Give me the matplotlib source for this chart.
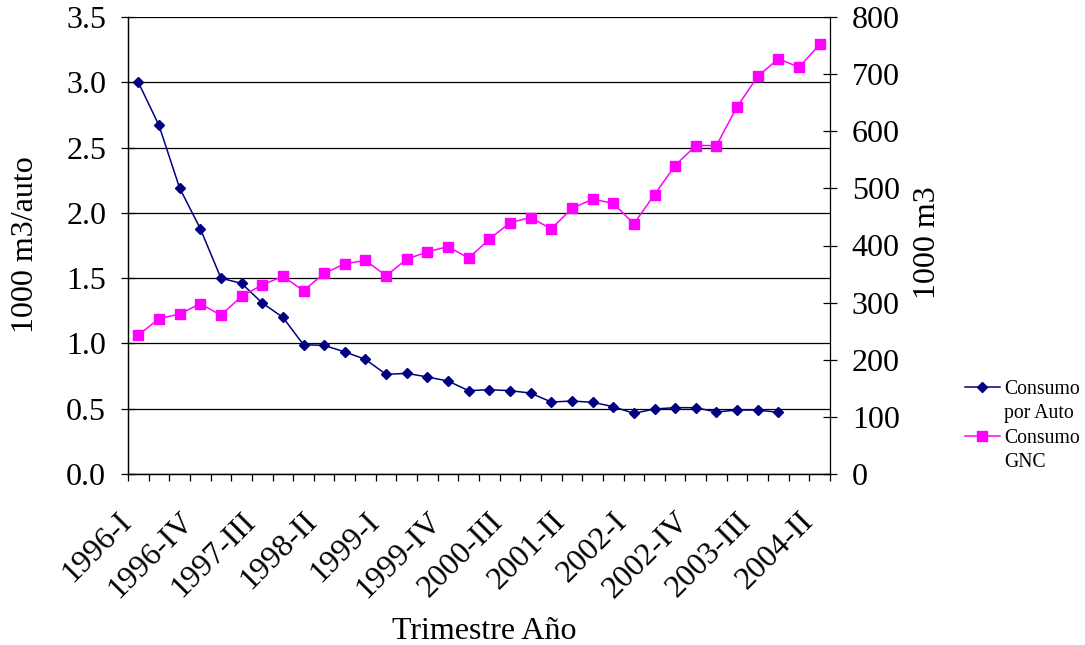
import matplotlib
matplotlib.use("Agg")
import matplotlib.pyplot as plt
from matplotlib.lines import Line2D
from matplotlib.transforms import ScaledTranslation
import numpy as np

plt.rcParams['font.family'] = ['Liberation Serif', 'DejaVu Serif']

# trimestres 1996-I .. 2004-II
years = range(1996, 2005)
quarters = ['I', 'II', 'III', 'IV']
trimestres = [f"{y}-{q}" for y in years for q in quarters][:34]

consumo_auto = [3.00, 2.67, 2.19, 1.88, 1.50, 1.46, 1.31, 1.20, 0.99, 0.985,
                0.935, 0.878, 0.763, 0.771, 0.743, 0.712, 0.638, 0.646, 0.638, 0.620,
                0.551, 0.559, 0.549, 0.516, 0.464, 0.498, 0.508, 0.508, 0.475, 0.490,
                0.490, 0.472]

consumo_gnc = [243, 272, 280, 298, 278, 311, 331, 346, 321, 351,
               368, 374, 347, 376, 389, 398, 378, 411, 440, 449,
               429, 465, 481, 474, 438, 489, 540, 575, 575, 643,
               696, 727, 712, 752]

azul = '#000080'
magenta = '#FF00FF'
fs = 23

fig = plt.figure(figsize=(10.85, 6.45), dpi=100)
ax = fig.add_axes([128/1085, 1-474/645, 702/1085, 457/645])
ax2 = ax.twinx()

x1 = np.arange(len(consumo_auto))
x2 = np.arange(len(consumo_gnc))
l1, = ax.plot(x1, consumo_auto, color=azul, marker='D', markersize=5, lw=1.1, zorder=3)
l2, = ax2.plot(x2, consumo_gnc, color=magenta, marker='s', markersize=6.5, lw=1.1, zorder=3)

ax.set_xlim(-0.5, len(trimestres) - 0.5)
ax.set_ylim(0, 3.5)
ax2.set_ylim(0, 800)

ax.set_yticks(np.arange(0, 3.51, 0.5))
ax.set_yticklabels([f"{v:.1f}" for v in np.arange(0, 3.51, 0.5)])
ax2.set_yticks(range(0, 801, 100))
ax.yaxis.grid(True, color='black', lw=0.9)
ax.set_axisbelow(True)

# category labels every 3 quarters, ticks between categories
ax.set_xticks(x2[::3])
ax.set_xticklabels(trimestres[::3], rotation=45, ha='right', va='center',
                   rotation_mode='anchor', fontsize=fs)
ax.set_xticks(np.arange(-0.5, len(trimestres)), minor=True)
ax.tick_params(axis='x', which='major', length=0, pad=31)
ax.tick_params(axis='x', which='minor', direction='out', length=5, width=0.9)
shift = ScaledTranslation(-0.11, 0, fig.dpi_scale_trans)
for lab in ax.get_xticklabels():
    lab.set_transform(lab.get_transform() + shift)

ax.tick_params(axis='y', direction='inout', length=9.5, width=0.9, labelsize=fs, pad=11)
ax2.tick_params(axis='y', direction='inout', length=9.5, width=0.9, labelsize=fs, pad=11)

for a in (ax, ax2):
    a.spines['top'].set_visible(False)
    for s in a.spines.values():
        s.set_linewidth(0.9)
ax.spines['right'].set_visible(False)

ax.set_ylabel('1000 m3/auto', fontsize=fs)
ax.yaxis.set_label_coords(-0.126, 0.503)
ax2.set_ylabel('1000 m3', fontsize=fs)
ax2.yaxis.set_label_coords(1.118, 0.506)
ax.set_xlabel('Trimestre Año', fontsize=fs)
ax.xaxis.set_label_coords(0.508, -0.312)

blank = Line2D([], [], color='none')
fig.legend([l1, blank, l2, blank], ['Consumo', 'por Auto', 'Consumo', 'GNC'],
           loc='upper left', bbox_to_anchor=(965/1085, 1-380/645),
           frameon=False, fontsize=14.2, labelspacing=0.27,
           handlelength=1.75, handletextpad=0.25, borderpad=0, borderaxespad=0)

fig.savefig('out.png', dpi=100)
